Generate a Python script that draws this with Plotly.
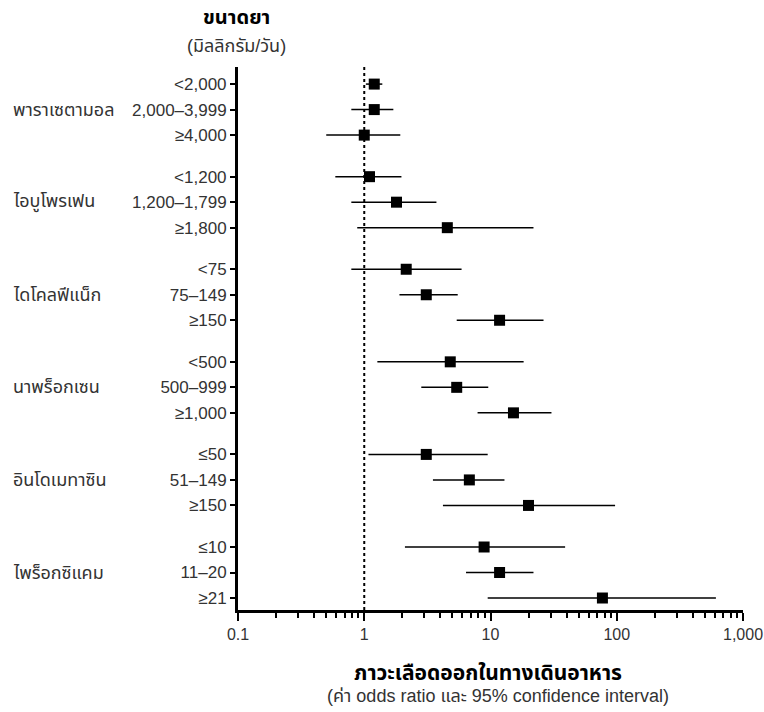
import plotly.graph_objects as go

drugs = ["พาราเซตามอล", "ไอบูโพรเฟน", "ไดโคลฟีแน็ก", "นาพร็อกเซน", "อินโดเมทาซิน", "ไพร็อกซิแคม"]
dose_labels = [
    ["<2,000", "2,000–3,999", "≥4,000"],
    ["<1,200", "1,200–1,799", "≥1,800"],
    ["<75", "75–149", "≥150"],
    ["<500", "500–999", "≥1,000"],
    ["≤50", "51–149", "≥150"],
    ["≤10", "11–20", "≥21"],
]
odds_ratio = [
    [1.2, 1.2, 1.0],
    [1.1, 1.8, 4.55],
    [2.15, 3.1, 11.8],
    [4.8, 5.4, 15.2],
    [3.1, 6.8, 20.0],
    [8.9, 11.8, 77.0],
]
ci_low = [
    [1.03, 0.79, 0.50],
    [0.59, 0.79, 0.88],
    [0.79, 1.9, 5.4],
    [1.27, 2.83, 7.9],
    [1.08, 3.5, 4.2],
    [2.1, 6.4, 9.5],
]
ci_high = [
    [1.39, 1.7, 1.93],
    [1.97, 3.73, 21.9],
    [5.9, 5.5, 26.3],
    [18.3, 9.6, 30.4],
    [9.5, 12.9, 97.0],
    [39.0, 21.9, 610.0],
]
x_tick_vals = [0.1, 1, 10, 100, 1000]
x_tick_text = ["0.1", "1", "10", "100", "1,000"]

GAP = 0.63
ys, xs, lo, hi, labels = [], [], [], [], []
group_mid = []
row = 0
for g in range(len(drugs)):
    mids = []
    for k in range(3):
        y = row + GAP * g
        ys.append(y)
        xs.append(odds_ratio[g][k])
        lo.append(odds_ratio[g][k] - ci_low[g][k])
        hi.append(ci_high[g][k] - odds_ratio[g][k])
        labels.append(dose_labels[g][k])
        mids.append(y)
        row += 1
    group_mid.append(mids[1])

FONT = "Liberation Sans, Arial, Noto Sans Thai, Loma, sans-serif"

fig = go.Figure()
fig.add_trace(go.Scatter(
    x=xs, y=ys, mode="markers",
    marker=dict(symbol="square", size=11, color="black"),
    error_x=dict(type="data", symmetric=False, array=hi, arrayminus=lo,
                 color="black", thickness=1.5, width=0),
    showlegend=False, hoverinfo="x+y",
))

ymax = ys[-1] + 0.47
ymin = ys[0] - 0.67

fig.add_shape(type="line", xref="x", yref="y", x0=1, x1=1, y0=ymin, y1=ymax,
              line=dict(color="black", width=2, dash="dot"), layer="below")

fig.update_xaxes(
    type="log", range=[-1, 3],
    tickvals=x_tick_vals, ticktext=x_tick_text,
    ticks="outside", ticklen=8, tickwidth=2, tickcolor="black",
    minor=dict(ticks="outside", ticklen=5, tickwidth=2, tickcolor="black", dtick="D1"),
    showline=True, linewidth=3, linecolor="black",
    showgrid=False, zeroline=False,
    ticklabeloverflow="allow", automargin=False,
    tickfont=dict(family=FONT, size=16, color="#333"),
)
fig.update_yaxes(
    range=[ymax, ymin],
    tickvals=ys, ticktext=labels,
    ticks="outside", ticklen=5, tickwidth=2, tickcolor="black",
    showline=True, linewidth=3, linecolor="black",
    showgrid=False, zeroline=False, automargin=False,
    tickfont=dict(family=FONT, size=17, color="#333"),
)

for name, ym in zip(drugs, group_mid):
    fig.add_annotation(x=0, xref="paper", y=ym, yref="y", text=name,
                       xanchor="left", xshift=-227, showarrow=False,
                       font=dict(family=FONT, size=18, color="#333"))

fig.add_annotation(x=0, xref="paper", y=1, yref="paper", text="<b>ขนาดยา</b>",
                   xanchor="center", yanchor="middle", xshift=-2, yshift=50, showarrow=False,
                   font=dict(family=FONT, size=20, color="black"))
fig.add_annotation(x=0, xref="paper", y=1, yref="paper", text="(มิลลิกรัม/วัน)",
                   xanchor="center", yanchor="middle", xshift=-2, yshift=21, showarrow=False,
                   font=dict(family=FONT, size=18, color="#333"))
fig.add_annotation(x=0.5, xref="paper", y=0, yref="paper", text="<b>ภาวะเลือดออกในทางเดินอาหาร</b>",
                   xanchor="center", yanchor="middle", xshift=-3, yshift=-62, showarrow=False,
                   font=dict(family=FONT, size=21, color="black"))
fig.add_annotation(x=0.5, xref="paper", y=0, yref="paper", text="(ค่า odds ratio และ 95% confidence interval)",
                   xanchor="center", yanchor="middle", xshift=7, yshift=-86, showarrow=False,
                   font=dict(family=FONT, size=18, color="#333"))

fig.update_layout(
    width=764, height=712,
    margin=dict(l=238, r=21, t=67, b=102, autoexpand=False),
    plot_bgcolor="white", paper_bgcolor="white",
    font=dict(family=FONT),
)

fig.write_html("out.html", config={"displayModeBar": False},
               post_script="document.body.style.margin='0';document.body.style.overflow='hidden';")
